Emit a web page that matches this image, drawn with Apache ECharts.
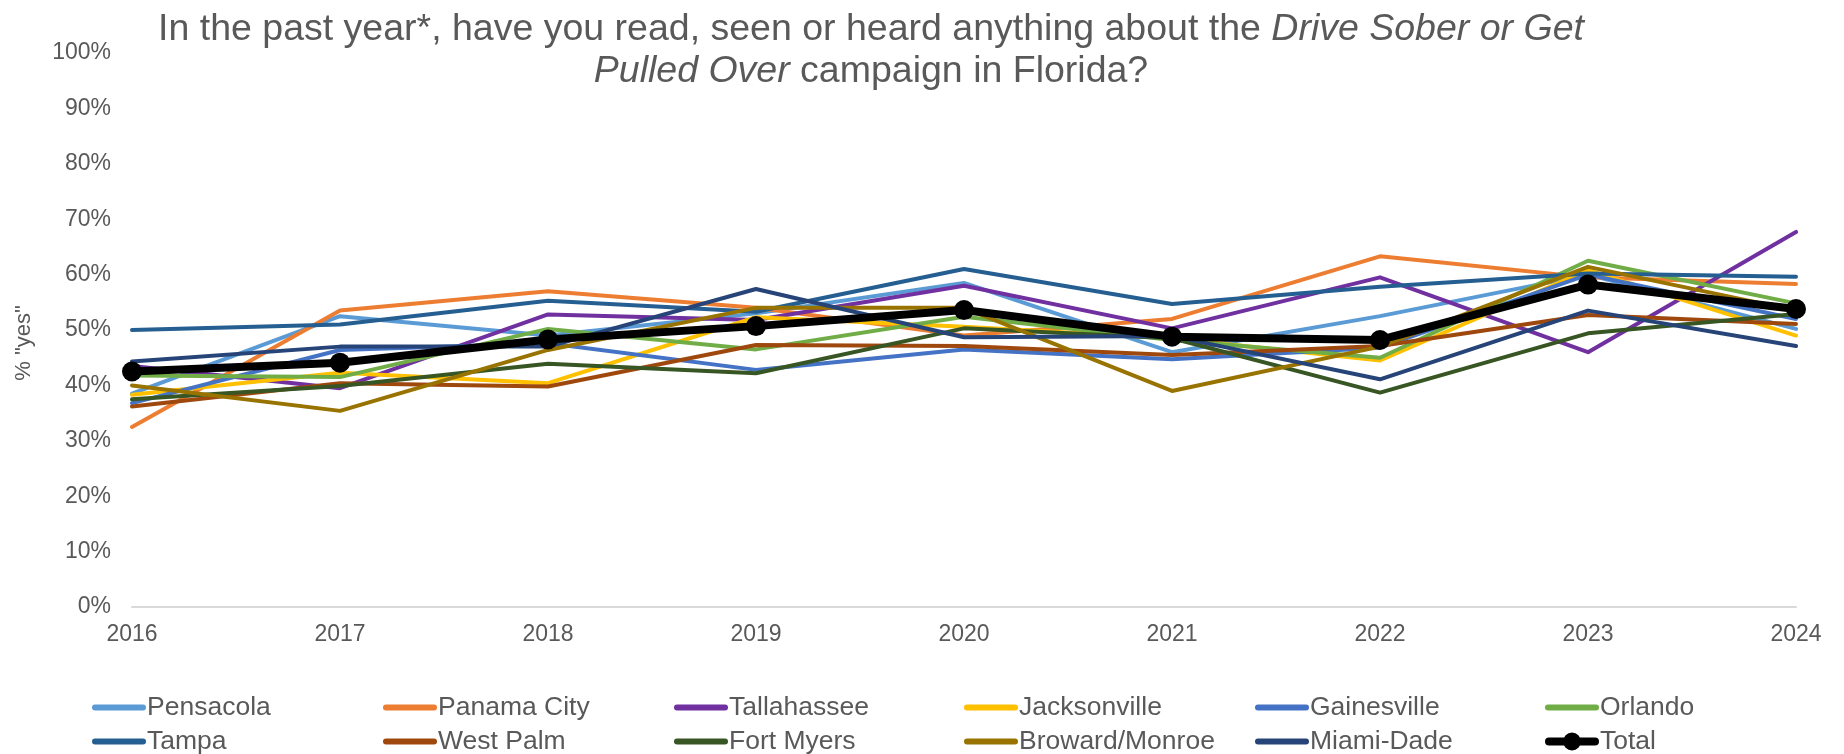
<!DOCTYPE html>
<html>
<head>
<meta charset="utf-8">
<script src="https://cdn.jsdelivr.net/npm/echarts@6/dist/echarts.min.js"></script>
<style>
html,body{margin:0;padding:0;background:#fff;}
#chart{width:1844px;height:754px;}
</style>
</head>
<body>
<div id="chart"></div>
<script>
const years = ['2016','2017','2018','2019','2020','2021','2022','2023','2024'];
const yTicks = [0,10,20,30,40,50,60,70,80,90,100];

const pensacola   = [38.5, 52.5, 49.0, 53.0, 58.5, 46.0, 52.5, 60.0, 50.2];
const panamaCity  = [32.5, 53.5, 57.0, 54.0, 49.0, 52.0, 63.3, 59.5, 58.3];
const tallahassee = [43.5, 39.5, 52.8, 51.8, 58.0, 50.3, 59.5, 46.0, 67.7];
const jacksonville= [38.3, 42.3, 40.4, 52.3, 50.6, 48.5, 44.5, 60.8, 49.0];
const gainesville = [36.8, 46.4, 47.6, 42.8, 46.5, 44.7, 46.8, 60.0, 52.0];
const orlando     = [41.8, 41.5, 50.2, 46.5, 52.4, 48.2, 45.0, 62.5, 54.8];
const tampa       = [50.0, 51.0, 55.3, 53.3, 61.0, 54.7, 57.8, 60.2, 59.6];
const westPalm    = [36.2, 40.4, 39.8, 47.3, 47.1, 45.5, 47.1, 52.7, 51.1];
const fortMyers   = [37.5, 39.9, 43.9, 42.2, 50.3, 48.5, 38.7, 49.4, 52.9];
const broward     = [40.0, 35.4, 46.4, 54.0, 54.0, 39.0, 47.0, 61.4, 53.5];
const miamiDade   = [44.3, 47.0, 47.0, 57.4, 48.7, 48.9, 41.1, 53.5, 47.1];
const total       = [42.5, 44.1, 48.3, 50.7, 53.6, 48.8, 48.2, 58.2, 53.8];

const names  = ['Pensacola','Panama City','Tallahassee','Jacksonville','Gainesville','Orlando',
                'Tampa','West Palm','Fort Myers','Broward/Monroe','Miami-Dade','Total'];
const values = [pensacola,panamaCity,tallahassee,jacksonville,gainesville,orlando,
                tampa,westPalm,fortMyers,broward,miamiDade,total];
const colors = ['#5B9BD5','#ED7D31','#7030A0','#FFC000','#4472C4','#70AD47',
                '#255E91','#9E480E','#375623','#997300','#264478','#000000'];

const FONT = '"Liberation Sans", Arial, sans-serif';
const TXT = '#595959';

const series = names.map((n, i) => {
  const isTotal = n === 'Total';
  return {
    name: n,
    type: 'line',
    data: values[i],
    color: colors[i],
    symbol: isTotal ? 'circle' : 'none',
    symbolSize: isTotal ? 20 : 0,
    showSymbol: isTotal,
    z: isTotal ? 10 : 2,
    lineStyle: { width: isTotal ? 8 : 4, color: colors[i], cap: 'round', join: 'round' },
    itemStyle: { color: colors[i] },
    emphasis: { disabled: true },
    animation: false
  };
});

const LINE_ICON = 'path://M3,0 L51,0 A3,3 0 0 1 51,6 L3,6 A3,3 0 0 1 3,0 Z';
const TOTAL_ICON = 'path://M4,5 L50,5 A4,4 0 0 1 50,13 L4,13 A4,4 0 0 1 4,5 Z M27,0 A9,9 0 1 1 27,18 A9,9 0 1 1 27,0 Z';

const colX = [92, 383, 674, 964, 1255, 1545];
const rowY = [694, 728];
const legends = names.map((n, i) => ({
  data: [{ name: n, icon: n === 'Total' ? TOTAL_ICON : LINE_ICON }],
  left: colX[i % 6],
  top: rowY[Math.floor(i / 6)],
  itemWidth: 54,
  itemHeight: n === 'Total' ? 18 : 6,
  itemGap: 0,
  padding: 0,
  textStyle: { fontFamily: FONT, fontSize: 26.5, color: TXT, padding: [0,0,0,-4] }
}));

const chart = echarts.init(document.getElementById('chart'), null, { renderer: 'canvas' });
chart.setOption({
  animation: false,
  backgroundColor: '#ffffff',
  title: {
    text: 'In the past year*, have you read, seen or heard anything about the {i|Drive Sober or Get}\n{i|Pulled Over} campaign in Florida?',
    left: 866,
    textAlign: 'center',
    top: 4,
    textStyle: {
      fontFamily: FONT, fontSize: 37.5, fontWeight: 'normal', color: TXT, lineHeight: 42,
      rich: { i: { fontFamily: FONT, fontSize: 37.5, fontStyle: 'italic', color: TXT, lineHeight: 42 } }
    }
  },
  legend: legends,
  grid: { left: 132, right: 48, top: 53, bottom: 147, containLabel: false },
  xAxis: {
    type: 'category',
    data: years,
    boundaryGap: false,
    axisLine: { show: true, lineStyle: { color: '#D9D9D9', width: 2 } },
    axisTick: { show: false },
    axisLabel: { fontFamily: FONT, fontSize: 23, color: TXT, margin: 16 },
    splitLine: { show: false }
  },
  yAxis: {
    type: 'value',
    min: yTicks[0],
    max: yTicks[yTicks.length - 1],
    interval: 10,
    name: '% "yes"',
    nameLocation: 'middle',
    nameGap: 97,
    nameRotate: 90,
    nameTextStyle: { fontFamily: FONT, fontSize: 22, color: TXT, padding: [0, 26, 0, 0] },
    axisLine: { show: false },
    axisTick: { show: false },
    splitLine: { show: false },
    axisLabel: { fontFamily: FONT, fontSize: 23, color: TXT, margin: 21, formatter: v => v + '%' }
  },
  series: series
});
</script>
</body>
</html>
